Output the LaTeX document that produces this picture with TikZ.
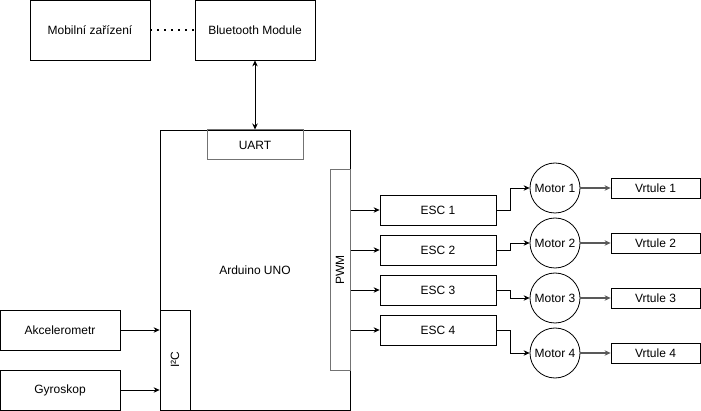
\documentclass[tikz,border=0pt]{standalone}
\usepackage{fontspec}
\setmainfont{Liberation Sans}
\usepackage{tikz}
\usetikzlibrary{arrows.meta}

\tikzset{
    box/.style={draw, rectangle, inner sep=0pt, line width=0.8pt},
    port/.style={draw=black!55, rectangle, inner sep=0pt, line width=1pt},
    motor/.style={draw, circle, inner sep=0pt, minimum size=50pt, line width=0.8pt},
    >={Stealth[length=6pt,width=5.5pt]},
}

\begin{document}
\begin{tikzpicture}[x=1pt, y=-1pt, font=\fontsize{12}{14}\selectfont, line width=0.8pt]
        \useasboundingbox (0,0) rectangle (701,411);

        \node[box, minimum width=120pt, minimum height=60pt] (mob) at (90,30) {Mobilní zařízení};
        \node[box, minimum width=120pt, minimum height=60pt] (bt) at (255,30) {Bluetooth Module};

        \node[box, minimum width=190pt, minimum height=280pt] (uno) at (255,270) {Arduino UNO};
        \node[port, minimum width=96pt, minimum height=30pt] (uart) at (255,145) {UART};
        \node[port, minimum width=20pt, minimum height=200pt] (pwm) at (340,270) {};
        \node[rotate=90] at (pwm.center) {PWM};
        \node[box, minimum width=30pt, minimum height=100pt] (i2c) at (175,360) {};
        \node[rotate=90] at (i2c.center) {I²C};

        \node[box, minimum width=120pt, minimum height=40pt] (akc) at (60,330) {Akcelerometr};
        \node[box, minimum width=120pt, minimum height=40pt] (gyro) at (60,390) {Gyroskop};

        \node[box, minimum width=116pt, minimum height=30pt] (esc1) at (438,210) {ESC 1};
        \node[box, minimum width=116pt, minimum height=30pt] (esc2) at (438,250) {ESC 2};
        \node[box, minimum width=116pt, minimum height=30pt] (esc3) at (438,290) {ESC 3};
        \node[box, minimum width=116pt, minimum height=30pt] (esc4) at (438,330) {ESC 4};

        \node[motor] (m1) at (555,188) {Motor 1};
        \node[motor] (m2) at (555,243) {Motor 2};
        \node[motor] (m3) at (555,298) {Motor 3};
        \node[motor] (m4) at (555,353) {Motor 4};

        \node[box, minimum width=89pt, minimum height=20pt] (v1) at (655.5,188) {Vrtule 1};
        \node[box, minimum width=89pt, minimum height=20pt] (v2) at (655.5,243) {Vrtule 2};
        \node[box, minimum width=89pt, minimum height=20pt] (v3) at (655.5,298) {Vrtule 3};
        \node[box, minimum width=89pt, minimum height=20pt] (v4) at (655.5,353) {Vrtule 4};

        % telefon .. bluetooth
        \draw[dash pattern=on 1.5pt off 5.5pt, line width=1.2pt] (mob) -- (bt);

        % bluetooth <-> UART
        \draw[<->] (bt) -- (uart);

        % senzory -> I2C
        \draw[->] (akc) -- (i2c.west |- akc);
        \draw[->] (gyro) -- (i2c.west |- gyro);

        % PWM -> ESC
        \draw[->] (pwm.east |- esc1) -- (esc1);
        \draw[->] (pwm.east |- esc2) -- (esc2);
        \draw[->] (pwm.east |- esc3) -- (esc3);
        \draw[->] (pwm.east |- esc4) -- (esc4);

        % ESC -> motor
        \draw[->] (esc1) -- ++(72,0) |- (m1);
        \draw[->] (esc2) -- ++(72,0) |- (m2);
        \draw[->] (esc3) -- ++(72,0) |- (m3);
        \draw[->] (esc4) -- ++(72,0) |- (m4);

        % motor -> vrtule
        \draw[->, black!65, line width=1.2pt] (m1) -- (v1);
        \draw[->, black!65, line width=1.2pt] (m2) -- (v2);
        \draw[->, black!65, line width=1.2pt] (m3) -- (v3);
        \draw[->, black!65, line width=1.2pt] (m4) -- (v4);
    \end{tikzpicture}
\end{document}
